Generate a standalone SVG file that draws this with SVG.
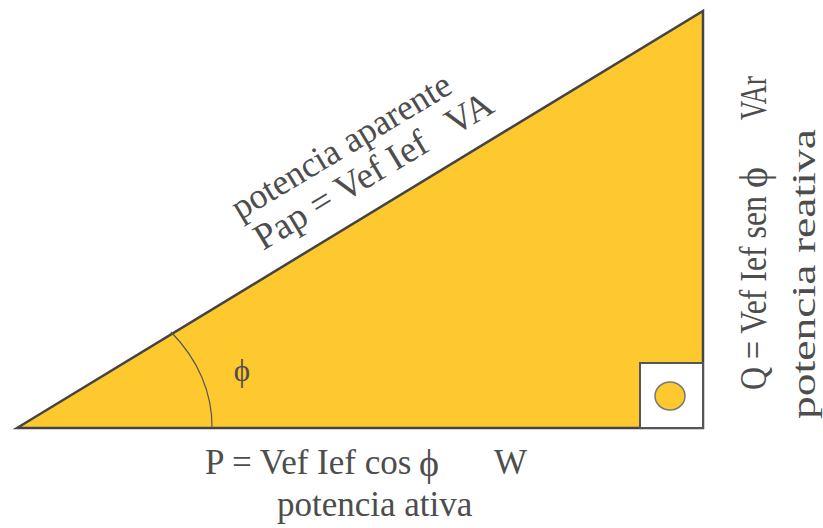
<svg xmlns="http://www.w3.org/2000/svg" width="823" height="528" viewBox="0 0 823 528">
<style>
.t{font-family:"Liberation Serif","Times New Roman",serif;fill:#4d4d4d}
</style>
<rect width="823" height="528" fill="#fff"/>
<g id="triangle">
<path d="M17 428 L703 11 L703 428 Z" fill="#fdc92f" stroke="#444" stroke-width="2.5"/>
</g>
<g id="right-angle">
<rect x="640" y="363" width="63" height="65" fill="#fff" stroke="#555" stroke-width="2"/>
<ellipse cx="670" cy="396" rx="15" ry="14" fill="#fdc92f" stroke="#777" stroke-width="1.5"/>
</g>
<g id="angle">
<path d="M171 332 A194 153 0 0 1 212 428" fill="none" stroke="#555" stroke-width="1.2"/>
<text class="t" x="242" y="381" font-size="31" text-anchor="middle">ϕ</text>
</g>
<g id="hypotenuse-label" transform="translate(263,251) rotate(-31)">
<text class="t" x="-4" y="-38" font-size="36" textLength="250" lengthAdjust="spacingAndGlyphs">potencia aparente</text>
<text class="t" x="0" y="0" font-size="37" xml:space="preserve" textLength="272" lengthAdjust="spacingAndGlyphs">Pap = Vef Ief   VA</text>
</g>
<g id="base-label">
<text class="t" x="205" y="474" font-size="35">P = Vef Ief cos</text>
<text class="t" x="419" y="476" font-size="38">ϕ</text>
<text class="t" x="494" y="474" font-size="35">W</text>
<text class="t" x="277" y="516" font-size="35">potencia ativa</text>
</g>
<g id="vertical-label">
<g transform="translate(766,390) rotate(-90)">
<text class="t" x="0" y="0" font-size="37" textLength="194" lengthAdjust="spacingAndGlyphs">Q = Vef Ief sen</text>
<text class="t" x="202" y="1" font-size="40">ϕ</text>
<text class="t" x="270" y="0" font-size="37" textLength="44" lengthAdjust="spacingAndGlyphs">VAr</text>
</g>
<g transform="translate(815,419) rotate(-90)">
<text class="t" x="0" y="0" font-size="34" textLength="290" lengthAdjust="spacingAndGlyphs">potencia reativa</text>
</g>
</g>
</svg>
